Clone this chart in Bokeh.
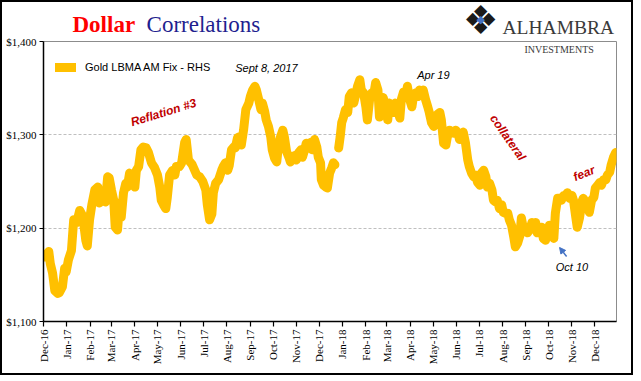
import math
import numpy as np
import pandas as pd
from bokeh.plotting import figure
from bokeh.layouts import column
from bokeh.models import (Range1d, FixedTicker, DatetimeTickFormatter, NumeralTickFormatter,
                          Label, Legend, LegendItem, Arrow, NormalHead)
from bokeh.embed import file_html
from bokeh.resources import INLINE

# ---------------- data ----------------
dates = [
    "2016-12-01", "2016-12-05", "2016-12-08", "2016-12-10", "2016-12-13", "2016-12-16", "2016-12-20",
    "2016-12-22", "2016-12-26", "2016-12-29", "2016-12-31", "2017-01-03", "2017-01-07", "2017-01-10",
    "2017-01-14", "2017-01-18", "2017-01-22", "2017-01-26", "2017-01-28", "2017-01-31", "2017-02-03",
    "2017-02-07", "2017-02-11", "2017-02-13", "2017-02-17", "2017-02-21", "2017-02-24", "2017-02-26",
    "2017-03-01", "2017-03-04", "2017-03-06", "2017-03-09", "2017-03-12", "2017-03-14", "2017-03-17",
    "2017-03-20", "2017-03-22", "2017-03-25", "2017-03-29", "2017-04-01", "2017-04-03", "2017-04-06",
    "2017-04-09", "2017-04-12", "2017-04-16", "2017-04-19", "2017-04-23", "2017-04-27", "2017-05-01",
    "2017-05-04", "2017-05-06", "2017-05-09", "2017-05-12", "2017-05-14", "2017-05-17", "2017-05-21",
    "2017-05-24", "2017-05-26", "2017-05-30", "2017-06-02", "2017-06-06", "2017-06-08", "2017-06-11",
    "2017-06-16", "2017-06-22", "2017-06-26", "2017-06-30", "2017-07-04", "2017-07-06", "2017-07-09",
    "2017-07-12", "2017-07-14", "2017-07-17", "2017-07-21", "2017-07-25", "2017-07-27", "2017-07-30",
    "2017-08-02", "2017-08-04", "2017-08-07", "2017-08-10", "2017-08-12", "2017-08-15", "2017-08-18",
    "2017-08-20", "2017-08-23", "2017-08-26", "2017-08-30", "2017-09-01", "2017-09-04", "2017-09-07",
    "2017-09-09", "2017-09-12", "2017-09-15", "2017-09-17", "2017-09-20", "2017-09-22", "2017-09-25",
    "2017-09-28", "2017-09-30", "2017-10-03", "2017-10-06", "2017-10-08", "2017-10-11", "2017-10-14",
    "2017-10-16", "2017-10-19", "2017-10-22", "2017-10-24", "2017-10-27", "2017-10-30", "2017-11-01",
    "2017-11-04", "2017-11-07", "2017-11-09", "2017-11-12", "2017-11-14", "2017-11-17", "2017-11-20",
    "2017-11-22", "2017-11-25", "2017-11-28", "2017-11-30", "2017-12-03", "2017-12-04", "2017-12-07",
    "2017-12-10", "2017-12-12", "2017-12-15", "2017-12-18", "2017-12-20", "2017-12-22", "2017-12-25",
    "2017-12-27", "2017-12-29", "2017-12-31", "2018-01-02", "2018-01-05", "2018-01-08", "2018-01-10",
    "2018-01-13", "2018-01-16", "2018-01-18", "2018-01-21", "2018-01-24", "2018-01-26", "2018-01-29",
    "2018-02-01", "2018-02-03", "2018-02-06", "2018-02-09", "2018-02-11", "2018-02-14", "2018-02-17",
    "2018-02-19", "2018-02-22", "2018-02-24", "2018-02-27", "2018-03-02", "2018-03-04", "2018-03-07",
    "2018-03-10", "2018-03-12", "2018-03-15", "2018-03-18", "2018-03-20", "2018-03-23", "2018-03-26",
    "2018-03-28", "2018-03-31", "2018-04-03", "2018-04-05", "2018-04-08", "2018-04-11", "2018-04-13",
    "2018-04-16", "2018-04-18", "2018-04-21", "2018-04-24", "2018-04-26", "2018-04-29", "2018-05-02",
    "2018-05-04", "2018-05-07", "2018-05-10", "2018-05-12", "2018-05-15", "2018-05-18", "2018-05-20",
    "2018-05-23", "2018-05-26", "2018-05-28", "2018-05-31", "2018-06-03", "2018-06-05", "2018-06-08",
    "2018-06-10", "2018-06-13", "2018-06-16", "2018-06-18", "2018-06-21", "2018-06-24", "2018-06-26",
    "2018-06-29", "2018-07-02", "2018-07-04", "2018-07-07", "2018-07-10", "2018-07-12", "2018-07-15",
    "2018-07-18", "2018-07-20", "2018-07-23", "2018-07-25", "2018-07-28", "2018-07-31", "2018-08-02",
    "2018-08-05", "2018-08-08", "2018-08-10", "2018-08-13", "2018-08-16", "2018-08-18", "2018-08-21",
    "2018-08-24", "2018-08-26", "2018-08-29", "2018-09-01", "2018-09-03", "2018-09-06", "2018-09-09",
    "2018-09-11", "2018-09-14", "2018-09-16", "2018-09-19", "2018-09-22", "2018-09-24", "2018-09-27",
    "2018-09-30", "2018-10-02", "2018-10-05", "2018-10-08", "2018-10-10", "2018-10-13", "2018-10-16",
    "2018-10-18", "2018-10-21", "2018-10-24", "2018-10-26", "2018-10-29", "2018-11-01", "2018-11-03",
    "2018-11-06", "2018-11-08", "2018-11-11", "2018-11-14", "2018-11-16", "2018-11-19", "2018-11-22",
    "2018-11-24", "2018-11-27", "2018-11-30", "2018-12-02", "2018-12-05", "2018-12-08", "2018-12-10",
    "2018-12-13", "2018-12-16", "2018-12-18", "2018-12-21", "2018-12-23", "2018-12-26", "2018-12-29",
]
gold = [
    1169, 1172, 1175, 1162, 1152, 1133, 1130,
    1131, 1137, 1157, 1153, 1166, 1176, 1209,
    1206, 1219, 1213, 1187, 1181, 1209, 1225,
    1241, 1244, 1227, 1230, 1228, 1255, 1254,
    1241, 1230, 1201, 1198, 1227, 1212, 1238,
    1248, 1244, 1259, 1254, 1244, 1262, 1266,
    1284, 1287, 1286, 1281, 1270, 1265, 1257,
    1244, 1230, 1225, 1221, 1233, 1257, 1262,
    1257, 1266, 1266, 1270, 1292, 1295, 1273,
    1268, 1257, 1255, 1250, 1241, 1225, 1209,
    1215, 1238, 1248, 1252, 1262, 1266, 1270,
    1262, 1267, 1284, 1287, 1286, 1297, 1298,
    1289, 1305, 1327, 1334, 1341, 1348, 1352,
    1348, 1338, 1327, 1334, 1325, 1316, 1309,
    1298, 1284, 1275, 1271, 1287, 1298, 1305,
    1298, 1282, 1276, 1271, 1275, 1278, 1273,
    1281, 1284, 1276, 1284, 1291, 1286, 1292,
    1284, 1295, 1287, 1276, 1270, 1252, 1246,
    1244, 1243, 1259, 1265, 1270, 1268, None,
    1286, 1298, 1313, 1318, 1327, 1324, 1341,
    1345, 1334, 1341, 1352, 1359, 1348, 1345,
    1330, 1316, 1338, 1345, 1341, 1356, 1348,
    1319, 1334, 1340, 1330, 1316, 1334, 1327,
    1324, 1334, 1327, 1318, 1338, 1346, 1341,
    1352, 1338, 1330, 1341, 1345, 1341, 1348,
    1345, 1348, 1338, 1330, 1324, 1313, 1309,
    1311, 1322, 1324, 1316, 1291, 1289, 1298,
    1305, 1303, 1302, 1305, 1302, 1295, 1297,
    1303, 1291, 1273, 1266, 1259, 1255, 1257,
    1249, 1246, 1259, 1262, 1255, 1244, 1248,
    1241, 1230, 1228, 1230, 1221, 1225, 1217,
    1216, 1216, 1209, 1203, 1190, 1180, 1184,
    1192, 1211, 1198, 1200, 1195, 1198, 1206,
    1201, 1206, 1195, 1198, 1201, 1189, 1187,
    1198, 1203, 1195, 1189, 1216, 1232, 1232,
    1230, 1235, 1235, 1238, 1232, 1235, 1230,
    1212, 1201, 1211, 1228, 1232, 1228, 1223,
    1217, 1230, 1233, 1243, 1246, 1249, 1246,
    1252, 1252, 1257, 1260, 1268, 1276, 1281,
]
series_label = "Gold LBMA AM Fix - RHS"
month_ticks = pd.date_range("2016-12-01", "2018-12-01", freq="MS")
y_ticks = [1100, 1200, 1300, 1400]
grid_ticks = [1200, 1300]
x_start, x_end = "2016-12-01", "2018-12-30"
y_start, y_end = 1100, 1400


def ms(s):
    return pd.Timestamp(s).value / 1e6


x = pd.to_datetime(dates)
y = np.array([np.nan if v is None else v for v in gold], dtype=float)

GOLD = "#FFC000"
RED = "#C00000"
W = 629
LEFT, RIGHT = 41, 15

# ---------------- header strip: title and logo ----------------
HH = 33
head = figure(width=W, height=HH, x_range=Range1d(ms(x_start), ms(x_end)), y_range=Range1d(0, HH),
              output_backend="svg", toolbar_location=None, title=None,
              x_axis_location=None, y_axis_location=None,
              min_border_left=LEFT, min_border_right=RIGHT,
              min_border_top=0, min_border_bottom=0,
              background_fill_color="white", border_fill_color="white")
head.outline_line_color = None
head.xgrid.visible = False
head.ygrid.visible = False
head.add_layout(Label(x=ms("2017-01-08 10:00"), y=11, text="Dollar", text_font="Liberation Serif",
                      text_font_style="bold", text_font_size="23px", text_color="#FF0000",
                      text_baseline="alphabetic"))
head.add_layout(Label(x=ms("2017-04-16 12:00"), y=11, text="Correlations", text_font="Liberation Serif",
                      text_font_size="23px", text_color="#1F1F8F", text_baseline="alphabetic"))
head.add_layout(Label(x=ms("2018-07-03"), y=16, text="\u2756", text_font="DejaVu Sans",
                      text_font_size="40px", text_color="#1A1A1A", text_align="center",
                      text_baseline="middle"))
head.add_layout(Label(x=ms("2018-07-03"), y=16, text="\u25C6", text_font="DejaVu Sans",
                      text_font_size="11px", text_color="#4472C4", text_align="center",
                      text_baseline="middle"))
head.add_layout(Label(x=ms("2018-08-01"), y=8, text="ALHAMBRA", text_font="Liberation Serif",
                      text_font_size="19.5px", text_color="#3A3A3A", text_baseline="alphabetic"))

# ---------------- main chart ----------------
p = figure(width=W, height=338, x_axis_type="datetime",
           x_range=Range1d(ms(x_start), ms(x_end)), y_range=Range1d(y_start, y_end),
           output_backend="svg", toolbar_location=None, title=None,
           min_border_left=LEFT, min_border_right=RIGHT, min_border_top=6, min_border_bottom=52,
           background_fill_color="white", border_fill_color="white")

r = p.line(x, y, line_color=GOLD, line_width=9, line_join="round", line_cap="round")

p.xaxis.ticker = FixedTicker(ticks=[ms(t) for t in month_ticks])
p.xaxis.formatter = DatetimeTickFormatter(days="%b-%y", months="%b-%y", years="%b-%y",
                                          hours="%b-%y", minutes="%b-%y")
p.xaxis.major_label_orientation = math.pi / 2
p.yaxis.ticker = FixedTicker(ticks=y_ticks)
p.yaxis.formatter = NumeralTickFormatter(format="$0,0")
for ax in (p.xaxis, p.yaxis):
    ax.axis_line_color = "black"
    ax.axis_line_width = 1.5
    ax.major_tick_line_color = "black"
    ax.major_tick_line_width = 1.2
    ax.major_tick_in = 0
    ax.major_tick_out = 5
    ax.minor_tick_line_color = None
    ax.major_label_text_font = "Liberation Serif"
    ax.major_label_text_font_size = "11px"
    ax.major_label_text_color = "black"
p.yaxis.major_tick_out = 4
p.yaxis.major_label_standoff = 3
p.xaxis.major_label_standoff = 3

p.xgrid.grid_line_color = None
p.ygrid.ticker = FixedTicker(ticks=grid_ticks)
p.ygrid.grid_line_color = "#BFBFBF"
p.ygrid.grid_line_dash = "3 2"
p.ygrid.grid_line_width = 1

p.outline_line_color = "#8C8C8C"
p.outline_line_width = 1

legend = Legend(items=[LegendItem(label=series_label, renderers=[r])],
                location=(12, 247), padding=4, margin=0, spacing=0,
                glyph_width=21, glyph_height=14, label_height=14, label_standoff=9,
                label_text_font="Liberation Sans", label_text_font_size="11px",
                label_text_color="black", background_fill_alpha=0, border_line_color=None)
p.add_layout(legend)

p.add_layout(Label(x=ms("2018-08-30"), y=1391, text="INVESTMENTS", text_font="Liberation Serif",
                   text_font_size="10px", text_color="#3A3A3A", text_baseline="alphabetic"))
p.add_layout(Label(x=ms("2017-08-12"), y=1371.3, text="Sept 8, 2017", text_font="Liberation Sans",
                   text_font_style="italic", text_font_size="11px", text_color="black",
                   text_baseline="alphabetic"))
p.add_layout(Label(x=ms("2018-04-10"), y=1363.6, text="Apr 19", text_font="Liberation Sans",
                   text_font_style="italic", text_font_size="11px", text_color="black",
                   text_baseline="alphabetic"))
p.add_layout(Label(x=ms("2017-05-09"), y=1323.9, text="Reflation #3", text_font="Liberation Sans",
                   text_font_style="bold italic", text_font_size="12px", text_color=RED,
                   text_align="center", text_baseline="middle", angle=math.radians(17)))
p.add_layout(Label(x=ms("2018-08-08"), y=1297.1, text="collateral", text_font="Liberation Sans",
                   text_font_style="bold italic", text_font_size="12px", text_color=RED,
                   text_align="center", text_baseline="middle", angle=math.radians(-55)))
p.add_layout(Label(x=ms("2018-11-17"), y=1258.6, text="fear", text_font="Liberation Sans",
                   text_font_style="bold italic", text_font_size="12px", text_color=RED,
                   text_align="center", text_baseline="middle", angle=math.radians(22)))
p.add_layout(Label(x=ms("2018-11-01"), y=1157.9, text="Oct 10", text_font="Liberation Sans",
                   text_font_style="italic", text_font_size="11px", text_color="black",
                   text_align="center", text_baseline="middle"))
p.add_layout(Arrow(x_start=ms("2018-10-24 22:00"), y_start=1169.6,
                   x_end=ms("2018-10-15 14:00"), y_end=1179.3,
                   end=NormalHead(size=6, fill_color="#4472C4", line_color="#4472C4"),
                   line_color="#4472C4", line_width=1.5))

page = column(head, p, spacing=0)
page.styles = {"border": "2px solid black"}

open("out.html", "w").write(file_html(page, INLINE))
